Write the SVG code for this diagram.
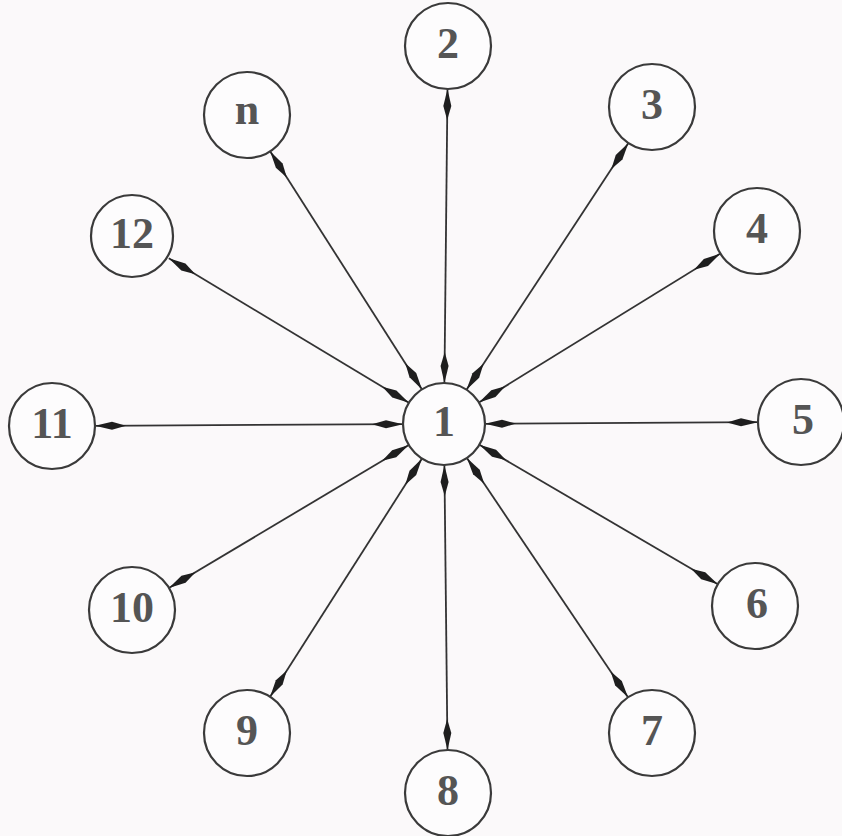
<svg xmlns="http://www.w3.org/2000/svg" width="842" height="836" viewBox="0 0 842 836">
<style>
.node circle{fill:#fdfcfd;stroke:#3a3a3a;stroke-width:2.2}
.node text{font-family:"Liberation Serif",serif;font-weight:bold;font-size:44px;fill:#555;text-anchor:middle;dominant-baseline:central}
.edge{stroke:#333;stroke-width:1.8;fill:none;marker-start:url(#ah);marker-end:url(#ah)}
</style>
<defs>
<marker id="ah" markerUnits="userSpaceOnUse" viewBox="0 0 32 10" markerWidth="32" markerHeight="10" refX="31" refY="5" orient="auto-start-reverse">
<path d="M0,5 L14,1 L31,5 L14,9 Z" fill="#1e1e1e"/>
</marker>
</defs>
<rect width="842" height="836" fill="#fbf9fa"/>
<g id="connectors">
<line class="edge" x1="444.4" y1="383" x2="447.5" y2="89"/>
<line class="edge" x1="466.5" y1="389.7" x2="628.4" y2="143"/>
<line class="edge" x1="478.9" y1="402.5" x2="720.4" y2="253.6"/>
<line class="edge" x1="485" y1="423.8" x2="758" y2="422.2"/>
<line class="edge" x1="479.4" y1="444.7" x2="717.9" y2="584.3"/>
<line class="edge" x1="466.9" y1="458" x2="628" y2="697.3"/>
<line class="edge" x1="444.4" y1="465" x2="447.5" y2="750"/>
<line class="edge" x1="422" y1="458.6" x2="270.1" y2="696.7"/>
<line class="edge" x1="408.8" y1="445" x2="168.9" y2="588"/>
<line class="edge" x1="403" y1="424.2" x2="95" y2="425.8"/>
<line class="edge" x1="408.9" y1="402.8" x2="168.8" y2="258.2"/>
<line class="edge" x1="422" y1="389.4" x2="270.1" y2="151.3"/>
</g>
<g id="node1" class="node"><circle cx="444" cy="424" r="41"/><text x="444" y="421">1</text></g>
<g id="node2" class="node"><circle cx="448" cy="46" r="43"/><text x="448" y="43">2</text></g>
<g id="node3" class="node"><circle cx="652" cy="107" r="43"/><text x="652" y="104">3</text></g>
<g id="node4" class="node"><circle cx="757" cy="231" r="43"/><text x="757" y="228">4</text></g>
<g id="node5" class="node"><circle cx="801" cy="422" r="43"/><text x="803" y="419">5</text></g>
<g id="node6" class="node"><circle cx="755" cy="606" r="43"/><text x="757" y="603">6</text></g>
<g id="node7" class="node"><circle cx="652" cy="733" r="43"/><text x="652" y="730">7</text></g>
<g id="node8" class="node"><circle cx="448" cy="793" r="43"/><text x="448" y="790">8</text></g>
<g id="node9" class="node"><circle cx="247" cy="733" r="43"/><text x="247" y="730">9</text></g>
<g id="node10" class="node"><circle cx="132" cy="610" r="43"/><text x="132" y="607">10</text></g>
<g id="node11" class="node"><circle cx="52" cy="426" r="43"/><text x="52" y="423">11</text></g>
<g id="node12" class="node"><circle cx="132" cy="236" r="41"/><text x="132" y="233">12</text></g>
<g id="noden" class="node"><circle cx="247" cy="115" r="43"/><text x="247" y="109">n</text></g>
</svg>
